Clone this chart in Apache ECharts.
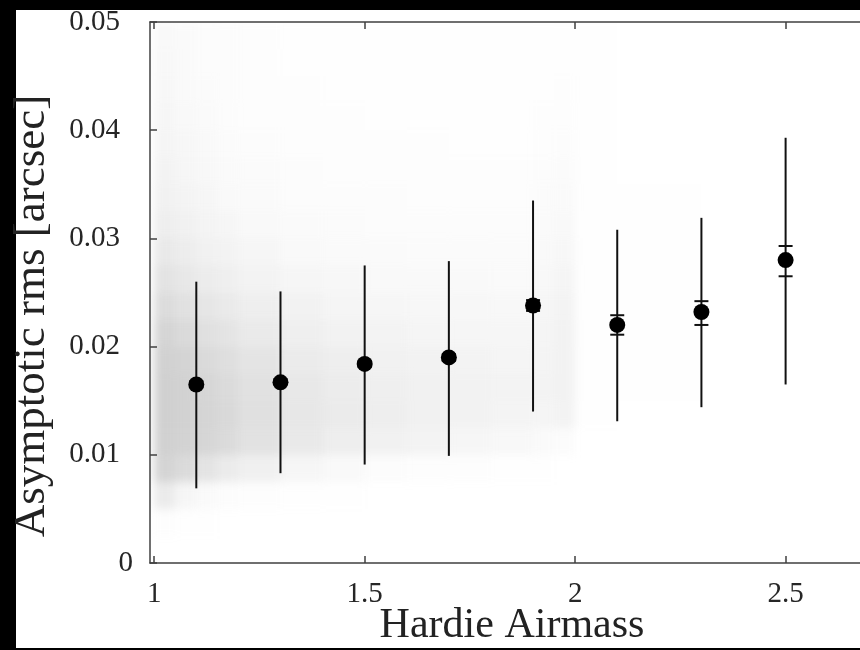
<!DOCTYPE html>
<html>
<head>
<meta charset="utf-8">
<script src="https://cdn.jsdelivr.net/npm/echarts@6/dist/echarts.min.js"></script>
<style>
html,body{margin:0;padding:0;background:#000;overflow:hidden;width:860px;height:650px;}
#paper{position:absolute;left:16px;top:10px;width:900px;height:638px;background:#fff;}
#chart{position:absolute;left:0;top:0;width:900px;height:650px;}
#chart canvas[data-zr-dom-id="zr_0"]{filter:blur(5px);clip-path:inset(22px 26px 87px 151px);}
</style>
</head>
<body>
<div id="paper"></div>
<div id="chart"></div>
<script>
// ---- data ----
const xTickValues = [1, 1.5, 2, 2.5];
const xTitle = 'Hardie Airmass';
const yTitle = 'Asymptotic rms [arcsec]';

// binned means with error bars
const airmass  = [1.1, 1.3, 1.5, 1.7, 1.9, 2.1, 2.3, 2.5];
const meanRms  = [0.0165, 0.0167, 0.0184, 0.0190, 0.0238, 0.0220, 0.0232, 0.0280];
const stdLow   = [0.0069, 0.0083, 0.0091, 0.0099, 0.0140, 0.0131, 0.0144, 0.0165];
const stdHigh  = [0.0260, 0.0251, 0.0275, 0.0279, 0.0335, 0.0308, 0.0319, 0.0393];
const semLow   = [0.0163, 0.0165, 0.0181, 0.0187, 0.0233, 0.0211, 0.0220, 0.0265];
const semHigh  = [0.0168, 0.0170, 0.0187, 0.0193, 0.0243, 0.0229, 0.0242, 0.0293];

// individual-measurement cloud, as estimated dot coverage (%) per cell
const cloudXEdges = [1.00, 1.05, 1.10, 1.15, 1.20, 1.30, 1.40, 1.50, 1.60, 1.70, 1.80, 1.90, 1.95, 2.00, 2.10, 2.30, 2.50, 2.70];
const cloudYStep = 0.0025; // rows from 0 to 0.05, bottom to top
const cloudCoverage = [
  [0, 3, 35, 75, 80, 82, 82, 80, 72, 60, 48, 38, 30, 25, 20, 17, 15, 13, 12, 11],
  [0, 1, 15, 62, 76, 78, 78, 74, 64, 52, 40, 31, 24, 19, 15, 13, 11, 9, 8, 8],
  [0, 1, 8, 46, 70, 72, 70, 64, 54, 43, 33, 25, 19, 15, 12, 10, 8, 7, 6, 6],
  [0, 0.5, 5, 35, 62, 65, 63, 56, 46, 36, 27, 20, 15, 11, 9, 7, 6, 5, 4.5, 4.5],
  [0, 0.3, 3, 26, 50, 54, 52, 46, 37, 29, 21, 15, 11, 8, 6.5, 5, 4, 3.5, 3, 3],
  [0, 0.3, 2, 16, 38, 42, 40, 35, 28, 22, 16, 11, 8, 6, 4.5, 3.5, 3, 2.5, 2.2, 2],
  [0, 0.2, 1, 11, 30, 34, 33, 29, 23, 18, 13, 9, 6.5, 5, 4, 3, 2.5, 2, 1.8, 1.7],
  [0, 0.2, 0.5, 6, 24, 29, 28, 25, 20, 15, 11, 8, 6, 4.5, 3.5, 2.7, 2.2, 1.8, 1.6, 1.5],
  [0, 0, 0.4, 4, 20, 25, 25, 22, 18, 14, 10, 7.5, 5.5, 4, 3.2, 2.5, 2, 1.7, 1.5, 1.4],
  [0, 0, 0.3, 2.5, 16, 22, 22, 20, 16, 13, 9.5, 7, 5, 3.8, 3, 2.4, 2, 1.6, 1.4, 1.3],
  [0, 0, 0.2, 1.5, 12, 19, 20, 18, 15, 12, 9, 6.5, 5, 3.8, 3, 2.4, 2, 1.6, 1.4, 1.3],
  [0, 0, 0, 1, 8, 18, 20, 19, 17, 15, 12, 10, 8, 6.5, 5, 4, 3, 2.2, 1.8, 1.6],
  [0, 0, 0, 0.5, 6, 20, 23, 23, 22, 20, 17, 14, 11, 9, 7, 5, 3.5, 2.5, 2, 1.8],
  [0, 0, 0, 0.2, 0.5, 1, 1.2, 1.3, 1.3, 1.3, 1.3, 1.2, 1.2, 1.2, 1.1, 1.1, 1, 1, 1, 1],
  [0, 0, 0, 0, 0.3, 0.8, 1, 1.1, 1.1, 1.1, 1.1, 1, 1, 1, 0.9, 0.9, 0.9, 0.8, 0.8, 0.8],
  [0, 0, 0, 0, 0.1, 0.4, 0.8, 0.9, 0.9, 0.9, 0.9, 0.8, 0.8, 0.8, 0.7, 0.7, 0.7, 0.6, 0.6, 0.6],
  [0, 0, 0, 0, 0, 0.2, 0.4, 0.5, 0.5, 0.5, 0.5, 0.5, 0.5, 0.4, 0.4, 0.4, 0.4, 0.4, 0.3, 0.3]
];

// ---- build series data ----
const cloudCells = [];
cloudCoverage.forEach((col, i) => {
  col.forEach((c, r) => {
    if (c > 0) cloudCells.push([cloudXEdges[i], cloudXEdges[i + 1], r * cloudYStep, (r + 1) * cloudYStep, c]);
  });
});
const errData = airmass.map((x, i) => [x, stdLow[i], stdHigh[i], semLow[i], semHigh[i]]);
const meanData = airmass.map((x, i) => [x, meanRms[i]]);

const FONT = '"Liberation Serif", "Times New Roman", serif';
const AX = '#404040';

const chart = echarts.init(document.getElementById('chart'), null, {renderer: 'canvas', width: 900, height: 650});

function xAxisDef(pos, showLabels) {
  return {
    type: 'value', position: pos, min: 0.99, max: 2.71, zlevel: 1,
    axisLine: {show: true, onZero: false, lineStyle: {color: AX, width: 1.5}},
    axisTick: {show: true, inside: true, length: 7, customValues: xTickValues, lineStyle: {color: AX, width: 1.5}},
    axisLabel: {show: showLabels, customValues: xTickValues, margin: 17, fontFamily: FONT, fontSize: 29, color: '#262626',
      formatter: v => String(v)},
    splitLine: {show: false}
  };
}
function yAxisDef(pos, showLabels) {
  return {
    type: 'value', position: pos, min: 0, max: 0.05, interval: 0.01, zlevel: 1,
    axisLine: {show: true, onZero: false, lineStyle: {color: AX, width: 1.5}},
    axisTick: {show: true, inside: true, length: 7, lineStyle: {color: AX, width: 1.5}},
    axisLabel: {show: showLabels, margin: 17, fontFamily: FONT, fontSize: 29, color: '#262626',
      formatter: v => v === 0 ? '{z|0}' : '{n|' + v.toFixed(2) + '}',
      rich: {
        z: {fontFamily: FONT, fontSize: 29, color: '#262626'},
        n: {fontFamily: FONT, fontSize: 29, color: '#262626', padding: [0, 13, 0, 0]}
      }},
    splitLine: {show: false}
  };
}

chart.setOption({
  backgroundColor: 'transparent',
  animation: false,
  grid: {left: 150, top: 22, right: 26, bottom: 87, containLabel: false, zlevel: 1},
  xAxis: [xAxisDef('bottom', true), xAxisDef('top', false)],
  yAxis: [yAxisDef('left', true), yAxisDef('right', false)],
  graphic: [
    {type: 'text', zlevel: 1, x: 512, y: 626, style: {text: xTitle, font: '42px ' + FONT, fill: '#222', textAlign: 'center', textVerticalAlign: 'middle'}},
    {type: 'text', zlevel: 1, x: 32, y: 316, rotation: Math.PI / 2, style: {text: yTitle, font: '45px ' + FONT, fill: '#222', textAlign: 'center', textVerticalAlign: 'middle'}}
  ],
  series: [
    {
      type: 'custom', xAxisIndex: 0, yAxisIndex: 0, z: 1, zlevel: 0,
      data: cloudCells,
      encode: {x: [0, 1], y: [2, 3]},
      renderItem: function (params, api) {
        const p0 = api.coord([api.value(0), api.value(3)]);
        const p1 = api.coord([api.value(1), api.value(2)]);
        const x0 = Math.round(p0[0]), y0 = Math.round(p0[1]);
        const x1 = Math.round(p1[0]), y1 = Math.round(p1[1]);
        const cs = params.coordSys;
        const rect = echarts.graphic.clipRectByRect(
          {x: x0, y: y0, width: x1 - x0, height: y1 - y0},
          {x: cs.x, y: cs.y, width: cs.width, height: cs.height});
        if (!rect) return null;
        return {type: 'rect', shape: rect, style: {fill: 'rgb(200,200,200)', opacity: Math.min(1, api.value(4) / 95)}};
      }
    },
    {
      type: 'custom', xAxisIndex: 0, yAxisIndex: 0, z: 3, zlevel: 1,
      data: errData,
      encode: {x: 0, y: [1, 2]},
      renderItem: function (params, api) {
        const x = api.value(0);
        const lo = api.coord([x, api.value(1)]);
        const hi = api.coord([x, api.value(2)]);
        const sl = api.coord([x, api.value(3)]);
        const sh = api.coord([x, api.value(4)]);
        const st = {stroke: '#111', lineWidth: 2};
        return {type: 'group', children: [
          {type: 'line', shape: {x1: lo[0], y1: lo[1], x2: hi[0], y2: hi[1]}, style: st},
          {type: 'line', shape: {x1: sl[0] - 7, y1: sl[1], x2: sl[0] + 7, y2: sl[1]}, style: st},
          {type: 'line', shape: {x1: sh[0] - 7, y1: sh[1], x2: sh[0] + 7, y2: sh[1]}, style: st}
        ]};
      }
    },
    {
      type: 'scatter', xAxisIndex: 0, yAxisIndex: 0, z: 5, zlevel: 1,
      data: meanData, symbol: 'circle', symbolSize: 16,
      itemStyle: {color: '#000', opacity: 1}
    }
  ]
});
</script>
</body>
</html>
